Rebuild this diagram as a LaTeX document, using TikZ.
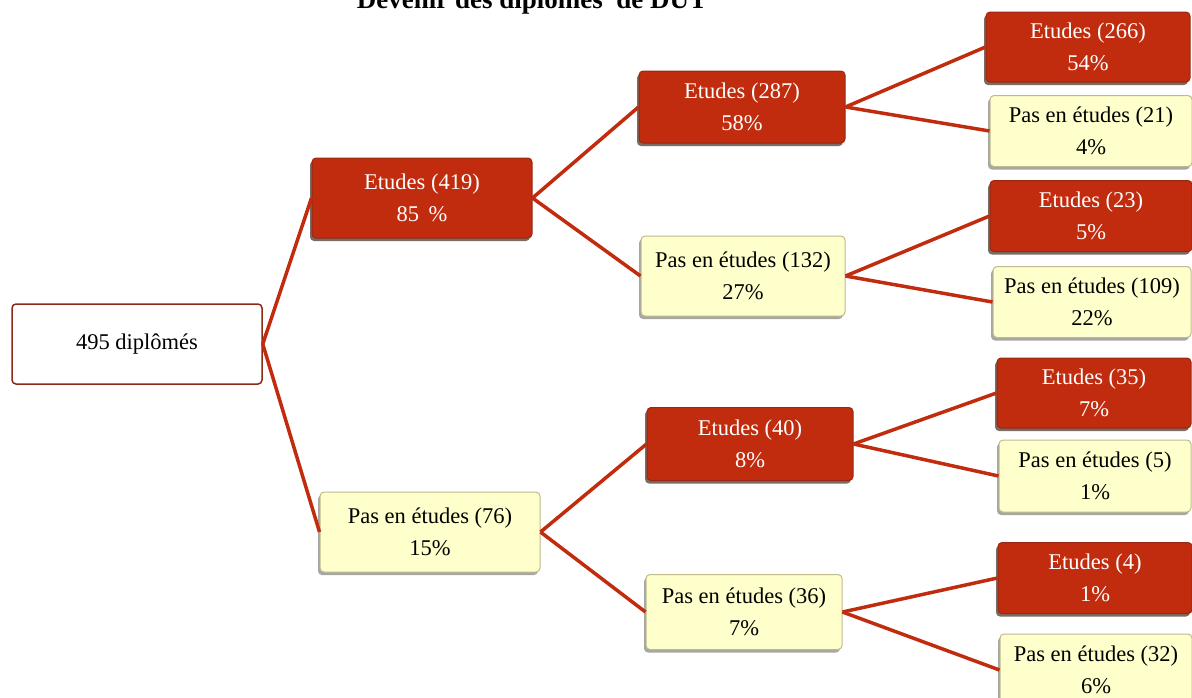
\documentclass[tikz,border=0pt]{standalone}
\usepackage{fontspec}
\setmainfont{Liberation Serif}
\usetikzlibrary{shadows}
\definecolor{etred}{RGB}{193,44,14}
\definecolor{etborder}{RGB}{150,40,20}
\definecolor{pasyellow}{RGB}{255,255,204}
\definecolor{pasborder}{RGB}{190,186,140}
\definecolor{rootborder}{RGB}{140,42,26}
\definecolor{shadowgray}{RGB}{120,108,100}
\tikzset{
    box/.style = {
        rounded corners=4pt,
        align=center,
        inner sep=0pt,
        line width=1pt,
        font=\fontsize{22.5}{32}\selectfont,
        },
    etudes/.style = {
        box,
        fill = etred,
        draw = etborder,
        text = white,
        drop shadow = {shadow xshift=-2pt, shadow yshift=-3pt, fill=shadowgray, opacity=1},
        },
    pas/.style = {
        box,
        fill = pasyellow,
        draw = pasborder,
        text = black,
        drop shadow = {shadow xshift=-2pt, shadow yshift=-3pt, fill=gray!70, opacity=1},
        },
    root/.style = {
        box,
        fill = white,
        draw = rootborder,
        line width=1.5pt,
        },
    branch/.style = {
        draw = etred,
        line width=3.5pt,
        },
}
\begin{document}
\begin{tikzpicture}[x=1pt,y=-1pt]
            \useasboundingbox (0,0) rectangle (1192,697);
            \node[font=\bfseries\fontsize{27}{27}\selectfont, anchor=base] (title) at (532,8) {Devenir des diplômés\ \ de DUT};

            \node[root, minimum width=250pt, minimum height=80pt] (495) at (137,344) {495 diplômés};

            \node[etudes, minimum width=220pt, minimum height=80pt] (e419) at (422,198) {Etudes (419)\\85 \,\%};
            \node[pas, minimum width=220pt, minimum height=80pt] (p76) at (430,532) {Pas en études (76)\\15\%};

            \node[etudes, minimum width=206pt, minimum height=72pt] (e287) at (742,107) {Etudes (287)\\58\%};
            \node[pas, minimum width=204pt, minimum height=80pt] (p132) at (743,276) {Pas en études (132)\\27\%};
            \node[etudes, minimum width=206pt, minimum height=73pt] (e40) at (750,444) {Etudes (40)\\8\%};
            \node[pas, minimum width=196pt, minimum height=75pt] (p36) at (744,612) {Pas en études (36)\\7\%};

            \node[etudes, minimum width=204pt, minimum height=70pt] (e266) at (1088,47) {Etudes (266)\\54\%};
            \node[pas, minimum width=202pt, minimum height=71pt] (p21) at (1091,131) {Pas en études (21)\\4\%};
            \node[etudes, minimum width=202pt, minimum height=71pt] (e23) at (1091,216) {Etudes (23)\\5\%};
            \node[pas, minimum width=198pt, minimum height=71pt] (p109) at (1092,302) {Pas en études (109)\\22\%};
            \node[etudes, minimum width=194pt, minimum height=70pt] (e35) at (1094,393) {Etudes (35)\\7\%};
            \node[pas, minimum width=192pt, minimum height=72pt] (p5) at (1095,476) {Pas en études (5)\\1\%};
            \node[etudes, minimum width=194pt, minimum height=71pt] (e4) at (1095,578) {Etudes (4)\\1\%};
            \node[pas, minimum width=192pt, minimum height=72pt] (p32) at (1096,670) {Pas en études (32)\\6\%};

            \path[branch] (495.east) -- (e419.west);
            \path[branch] (495.east) -- (p76.west);
            \path[branch] (e419.east) -- (e287.west);
            \path[branch] (e419.east) -- (p132.west);
            \path[branch] (p76.east) -- (e40.west);
            \path[branch] (p76.east) -- (p36.west);
            \path[branch] (e287.east) -- (e266.west);
            \path[branch] (e287.east) -- (p21.west);
            \path[branch] (p132.east) -- (e23.west);
            \path[branch] (p132.east) -- (p109.west);
            \path[branch] (e40.east) -- (e35.west);
            \path[branch] (e40.east) -- (p5.west);
            \path[branch] (p36.east) -- (e4.west);
            \path[branch] (p36.east) -- (p32.west);
        \end{tikzpicture}
\end{document}
